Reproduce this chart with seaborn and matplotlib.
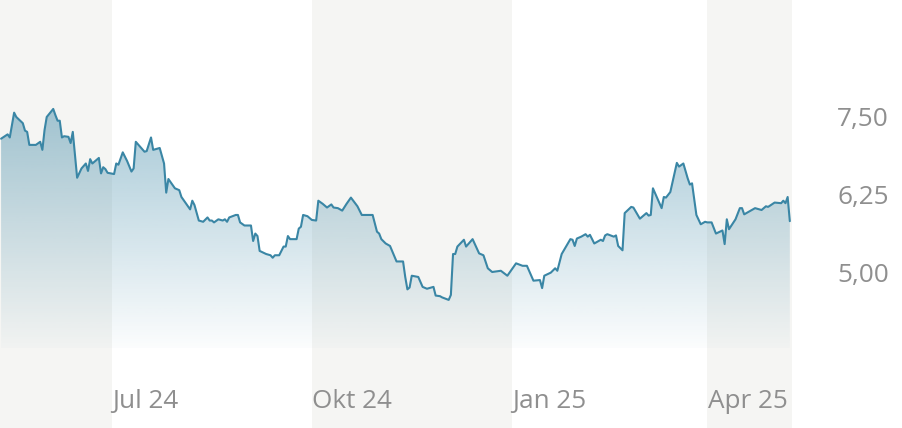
import numpy as np
import pandas as pd
import matplotlib
matplotlib.use("Agg")
import matplotlib.pyplot as plt
import matplotlib.dates as mdates
import seaborn as sns

# closing prices (May 2024 - May 2025)
dates = [
    "2024-05-11", "2024-05-14", "2024-05-15", "2024-05-17", "2024-05-18", "2024-05-21",
    "2024-05-22", "2024-05-23", "2024-05-24", "2024-05-27", "2024-05-29", "2024-05-30",
    "2024-05-31", "2024-06-01", "2024-06-04", "2024-06-05", "2024-06-06", "2024-06-07",
    "2024-06-08", "2024-06-09", "2024-06-11", "2024-06-12", "2024-06-13", "2024-06-15",
    "2024-06-17", "2024-06-19", "2024-06-20", "2024-06-21", "2024-06-22", "2024-06-25",
    "2024-06-26", "2024-06-27", "2024-06-28", "2024-06-29", "2024-07-02", "2024-07-03",
    "2024-07-04", "2024-07-06", "2024-07-08", "2024-07-10", "2024-07-11", "2024-07-12",
    "2024-07-16", "2024-07-17", "2024-07-19", "2024-07-20", "2024-07-23", "2024-07-25",
    "2024-07-26", "2024-07-27", "2024-07-30", "2024-08-01", "2024-08-02", "2024-08-06",
    "2024-08-07", "2024-08-08", "2024-08-10", "2024-08-12", "2024-08-14", "2024-08-15",
    "2024-08-16", "2024-08-17", "2024-08-19", "2024-08-21", "2024-08-22", "2024-08-23",
    "2024-08-24", "2024-08-27", "2024-08-28", "2024-08-29", "2024-08-31", "2024-09-03",
    "2024-09-04", "2024-09-05", "2024-09-06", "2024-09-07", "2024-09-10", "2024-09-12",
    "2024-09-13", "2024-09-14", "2024-09-16", "2024-09-18", "2024-09-19", "2024-09-20",
    "2024-09-21", "2024-09-24", "2024-09-25", "2024-09-26", "2024-09-27", "2024-09-29",
    "2024-10-01", "2024-10-03", "2024-10-04", "2024-10-06", "2024-10-08", "2024-10-10",
    "2024-10-11", "2024-10-13", "2024-10-15", "2024-10-17", "2024-10-19", "2024-10-22",
    "2024-10-24", "2024-10-29", "2024-10-31", "2024-11-01", "2024-11-02", "2024-11-04",
    "2024-11-06", "2024-11-09", "2024-11-12", "2024-11-13", "2024-11-14", "2024-11-15",
    "2024-11-16", "2024-11-19", "2024-11-21", "2024-11-23", "2024-11-26", "2024-11-27",
    "2024-11-29", "2024-11-30", "2024-12-03", "2024-12-04", "2024-12-05", "2024-12-06",
    "2024-12-07", "2024-12-10", "2024-12-11", "2024-12-14", "2024-12-17", "2024-12-19",
    "2024-12-21", "2024-12-23", "2024-12-27", "2024-12-30", "2025-01-03", "2025-01-06",
    "2025-01-08", "2025-01-11", "2025-01-14", "2025-01-15", "2025-01-16", "2025-01-19",
    "2025-01-21", "2025-01-22", "2025-01-24", "2025-01-28", "2025-01-29", "2025-01-30",
    "2025-01-31", "2025-02-02", "2025-02-04", "2025-02-05", "2025-02-06", "2025-02-08",
    "2025-02-11", "2025-02-12", "2025-02-13", "2025-02-14", "2025-02-17", "2025-02-18",
    "2025-02-19", "2025-02-21", "2025-02-22", "2025-02-25", "2025-02-26", "2025-03-01",
    "2025-03-04", "2025-03-05", "2025-03-06", "2025-03-07", "2025-03-11", "2025-03-12",
    "2025-03-13", "2025-03-15", "2025-03-18", "2025-03-19", "2025-03-21", "2025-03-23",
    "2025-03-24", "2025-03-25", "2025-03-27", "2025-03-29", "2025-03-31", "2025-04-01",
    "2025-04-03", "2025-04-05", "2025-04-08", "2025-04-09", "2025-04-10", "2025-04-11",
    "2025-04-14", "2025-04-16", "2025-04-17", "2025-04-18", "2025-04-23", "2025-04-26",
    "2025-04-28", "2025-04-29", "2025-05-02", "2025-05-05", "2025-05-06", "2025-05-07",
    "2025-05-08", "2025-05-09",
]
prices = [
    7.15, 7.22, 7.17, 7.57, 7.50, 7.40, 7.28, 7.26, 7.05, 7.05, 7.10, 6.97,
    7.29, 7.50, 7.63, 7.53, 7.44, 7.44, 7.17, 7.19, 7.18, 7.08, 7.26, 6.52,
    6.67, 6.75, 6.63, 6.82, 6.75, 6.84, 6.59, 6.69, 6.66, 6.60, 6.58, 6.75,
    6.73, 6.93, 6.79, 6.62, 6.67, 7.10, 6.94, 6.95, 7.17, 6.97, 7.00, 6.75,
    6.28, 6.50, 6.35, 6.32, 6.21, 6.01, 6.15, 6.08, 5.83, 5.81, 5.88, 5.83,
    5.83, 5.80, 5.85, 5.83, 5.85, 5.81, 5.88, 5.92, 5.92, 5.80, 5.75, 5.75,
    5.50, 5.62, 5.58, 5.34, 5.29, 5.27, 5.23, 5.27, 5.27, 5.41, 5.41, 5.58,
    5.53, 5.53, 5.70, 5.73, 5.92, 5.90, 5.84, 5.83, 6.15, 6.10, 6.04, 6.09,
    6.04, 6.03, 5.99, 6.10, 6.20, 6.06, 5.92, 5.92, 5.65, 5.62, 5.53, 5.46,
    5.42, 5.17, 5.17, 4.92, 4.72, 4.75, 4.94, 4.92, 4.76, 4.73, 4.76, 4.62,
    4.61, 4.59, 4.55, 4.63, 5.29, 5.29, 5.41, 5.52, 5.41, 5.53, 5.30, 5.27,
    5.06, 5.00, 5.02, 4.94, 5.14, 5.10, 5.10, 4.86, 4.87, 4.74, 4.94, 4.99,
    5.06, 5.02, 5.29, 5.53, 5.52, 5.42, 5.54, 5.57, 5.61, 5.57, 5.60, 5.46,
    5.52, 5.50, 5.59, 5.61, 5.57, 5.59, 5.42, 5.35, 5.95, 6.05, 6.04, 5.86,
    5.95, 5.91, 5.92, 6.35, 6.03, 6.21, 6.20, 6.29, 6.76, 6.70, 6.75, 6.51,
    6.41, 6.43, 5.92, 5.77, 5.81, 5.80, 5.80, 5.62, 5.67, 5.45, 5.85, 5.69,
    5.85, 6.03, 6.03, 5.93, 6.03, 6.00, 6.06, 6.05, 6.12, 6.11, 6.15, 6.11,
    6.21, 5.82,
]

quarter_starts = ["2024-07-01", "2024-10-01", "2025-01-01", "2025-04-01"]
quarter_labels = ["Jul 24", "Okt 24", "Jan 25", "Apr 25"]
y_ticks = [5.00, 6.25, 7.50]
y_tick_labels = ["5,00", "6,25", "7,50"]

df = pd.DataFrame({"date": pd.to_datetime(dates), "price": prices})

sns.set_theme(style="white")
plt.rcParams["font.family"] = ["Open Sans", "DejaVu Sans"]

line_color = "#3a86a5"
band_color = "#f5f5f3"
text_color = "#8f8f8f"

fig = plt.figure(figsize=(9.02, 4.28), dpi=100)
ax = fig.add_axes([0, 0, 792 / 902, 1])

x_left = pd.Timestamp("2024-07-01") - pd.Timedelta(days=51.5)
x_right = pd.Timestamp("2025-04-01") + pd.Timedelta(days=39)
y_bottom, y_top = 2.484, 9.387
baseline = 3.774

qs = pd.to_datetime(quarter_starts)
# alternating quarter bands
for a, b in [(x_left, qs[0]), (qs[1], qs[2]), (qs[3], x_right)]:
    ax.axvspan(a, b, color=band_color, lw=0, zorder=0)

# gradient fill below the line
poly = ax.fill_between(df["date"], df["price"], baseline, color="none", lw=0)
top = df["price"].max()
alpha = np.linspace(0.02, 0.45, 256)
grad = np.zeros((256, 1, 4))
grad[:, 0, :3] = matplotlib.colors.to_rgb(line_color)
grad[:, 0, 3] = alpha
im = ax.imshow(grad, origin="lower", aspect="auto", zorder=1,
               extent=[mdates.date2num(df["date"].min()), mdates.date2num(df["date"].max()),
                       baseline, top])
im.set_clip_path(poly.get_paths()[0], transform=ax.transData)

sns.lineplot(data=df, x="date", y="price", ax=ax, color=line_color, linewidth=1.5, zorder=2)

ax.set_xlim(x_left, x_right)
ax.set_ylim(y_bottom, y_top)
ax.set_xlabel("")
ax.set_ylabel("")
ax.set_xticks([])
for sp in ax.spines.values():
    sp.set_visible(False)

for d, lab in zip(qs, quarter_labels):
    ax.text(d + pd.Timedelta(hours=6), 2.806, lab, ha="left", va="baseline",
            fontsize=18.8, color=text_color)

ax.yaxis.tick_right()
ax.set_yticks(y_ticks)
ax.set_yticklabels(y_tick_labels)
ax.tick_params(axis="y", length=0, pad=69.8, labelsize=18.8, labelcolor=text_color)
for t in ax.get_yticklabels():
    t.set_horizontalalignment("right")

fig.savefig("out.png", dpi=100)
